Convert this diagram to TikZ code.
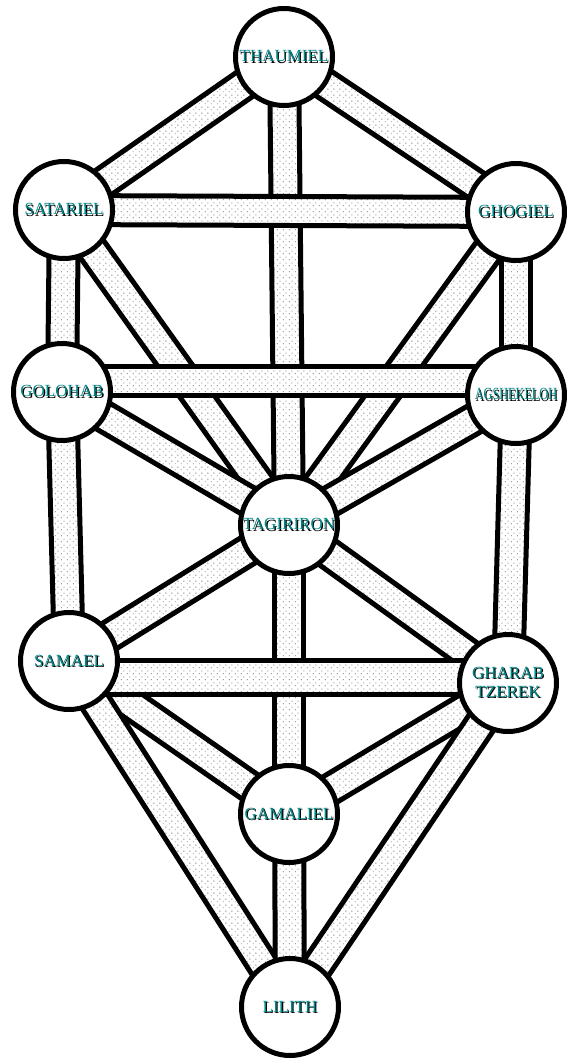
\documentclass[tikz,border=0pt]{standalone}
\usepackage{fontspec}
\setmainfont{Liberation Serif}
\usepackage{graphicx}
\usetikzlibrary{calc,patterns,backgrounds}
\definecolor{sefteal}{RGB}{0,135,135}
\definecolor{dotgray}{RGB}{110,110,110}
\pgfdeclarepatternformonly{stipple}{\pgfqpoint{0pt}{0pt}}{\pgfqpoint{6pt}{6pt}}{\pgfqpoint{6pt}{6pt}}%
  {\pgfpathrectangle{\pgfqpoint{1pt}{1pt}}{\pgfqpoint{1pt}{1pt}}%
   \pgfpathrectangle{\pgfqpoint{4pt}{4pt}}{\pgfqpoint{1pt}{1pt}}\pgfusepath{fill}}
\newcommand{\shd}[1]{\leavevmode\rlap{\kern1.1pt\raisebox{-1.1pt}{\color{black}#1}}{\color{sefteal}#1}}
\newcommand{\band}[3][14.5pt]{%
  \path[bandfill] ($(#2)!#1!90:(#3)$) -- ($(#3)!#1!-90:(#2)$) -- ($(#3)!#1!90:(#2)$) -- ($(#2)!#1!-90:(#3)$) -- cycle;
  \draw[bandedge] ($(#2)!#1!90:(#3)$) -- ($(#3)!#1!-90:(#2)$);
  \draw[bandedge] ($(#3)!#1!90:(#2)$) -- ($(#2)!#1!-90:(#3)$);
}
\tikzset{
  sefira/.style={circle, draw, line width=5pt, fill=white, minimum size=97pt, inner sep=0pt,
    align=center, font=\fontsize{17}{19}\selectfont},
  bandfill/.style={fill=white, postaction={pattern=stipple, pattern color=dotgray}},
  bandedge/.style={line width=5pt}
}
\begin{document}
\begin{tikzpicture}[x=1pt,y=-1pt]
\useasboundingbox (0,0) rectangle (566,1059);
\node[sefira] (thaumiel) at (284,57) {\shd{THAUMIEL}};
\node[sefira] (satariel) at (64,210) {\shd{SATARIEL}};
\node[sefira] (ghogiel) at (516,212) {\shd{GHOGIEL}};
\node[sefira] (golohab) at (62,392) {\shd{GOLOHAB}};
\node[sefira] (agshekeloh) at (516,395) {\shd{\scalebox{0.72}[1]{AGSHEKELOH}}};
\node[sefira] (tagiriron) at (289,525) {\shd{TAGIRIRON}};
\node[sefira] (samael) at (69,661) {\shd{SAMAEL}};
\node[sefira] (gharab) at (508,683) {\shd{GHARAB}\\\shd{TZEREK}};
\node[sefira] (gamaliel) at (289,814) {\shd{GAMALIEL}};
\node[sefira] (lilith) at (290,1007) {\shd{LILITH}};
%
\coordinate (golohabE) at ([yshift=11pt]golohab.center);
\coordinate (agshekelohW) at ([yshift=14pt]agshekeloh.center);
\coordinate (samaelE) at ([yshift=-16pt]samael.center);
\coordinate (gharabW) at ([yshift=6pt]gharab.center);
\begin{scope}[on background layer]
\foreach \a/\b in {thaumiel/satariel, thaumiel/ghogiel, thaumiel/tagiriron,
    satariel/golohab, satariel/tagiriron, ghogiel/agshekeloh, ghogiel/tagiriron,
    golohab/tagiriron, agshekeloh/tagiriron, golohab/samael, agshekeloh/gharab,
    tagiriron/samael, tagiriron/gharab, tagiriron/gamaliel,
    samael/gamaliel, gharab/gamaliel, samael/lilith, gharab/lilith, gamaliel/lilith}
  {\band{\a}{\b}}
\band{satariel}{ghogiel}
\band{golohabE}{agshekelohW}
\band[17pt]{samaelE}{gharabW}
\end{scope}
\end{tikzpicture}
\end{document}
